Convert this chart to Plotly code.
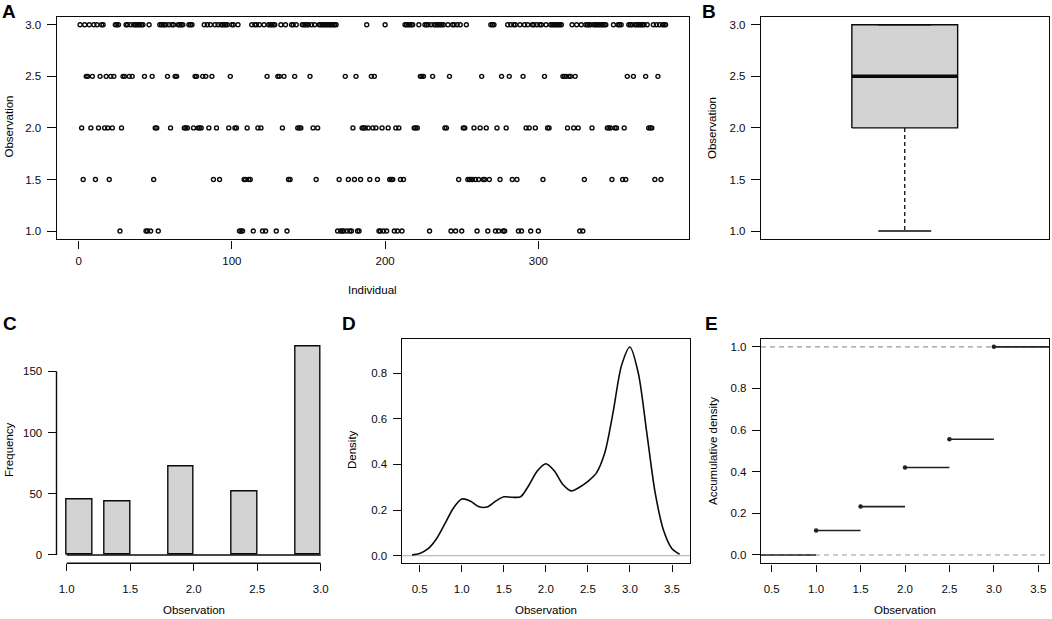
import numpy as np
import plotly.graph_objects as go

# observation levels and the individuals (1..383) that fall on each level
levels = [1.0, 1.5, 2.0, 2.5, 3.0]

idx_1_0 = [27, 44, 45, 47, 52, 105, 106, 107, 114, 120, 122, 129, 136, 169, 171, 172, 173, 175,
           177, 178, 182, 183, 196, 197, 199, 201, 206, 208, 211, 229, 243, 246, 250, 260, 267,
           272, 274, 277, 278, 287, 289, 295, 300, 327, 329]

idx_1_5 = [3, 11, 20, 49, 88, 92, 108, 109, 111, 112, 137, 138, 155, 170, 176, 180, 184, 190,
           195, 203, 204, 205, 210, 212, 248, 254, 255, 256, 257, 259, 261, 264, 265, 268, 275,
           283, 286, 303, 330, 348, 355, 357, 376, 380]

idx_2_0 = [2, 8, 13, 17, 19, 22, 28, 50, 51, 60, 69, 70, 71, 75, 78, 79, 80, 85, 90, 98, 102,
           103, 110, 117, 119, 133, 143, 144, 145, 153, 156, 179, 185, 186, 187, 189, 192, 194,
           198, 202, 207, 209, 219, 220, 221, 239, 240, 251, 252, 258, 262, 266, 273, 279, 292,
           294, 298, 306, 307, 319, 323, 326, 335, 345, 346, 347, 350, 351, 356, 372, 373, 374]

idx_2_5 = [5, 6, 9, 14, 18, 21, 23, 29, 30, 33, 35, 43, 48, 58, 63, 64, 76, 77, 81, 83, 87, 99,
           123, 130, 131, 134, 141, 151, 174, 181, 191, 193, 223, 224, 225, 231, 242, 263, 276,
           281, 290, 304, 316, 317, 318, 320, 321, 324, 358, 362, 370, 378]

idx_3_0 = [1, 4, 7, 10, 12, 15, 16, 24, 25, 26, 31, 32, 34, 36, 37, 38, 39, 40, 41, 42, 46, 53,
           54, 55, 56, 57, 59, 61, 62, 65, 66, 67, 68, 72, 73, 74, 82, 84, 86, 89, 91, 93, 94, 95,
           96, 97, 100, 101, 104, 113, 115, 116, 118, 121, 124, 125, 126, 127, 128, 132, 135, 139,
           140, 142, 146, 147, 148, 149, 150, 152, 154, 157, 158, 159, 160, 161, 162, 163, 164,
           165, 166, 167, 168, 188, 200, 213, 214, 215, 216, 217, 218, 222, 226, 227, 228, 230,
           232, 233, 234, 235, 236, 237, 238, 241, 244, 245, 247, 249, 253, 269, 270, 271, 280,
           282, 284, 285, 288, 291, 293, 296, 297, 299, 301, 302, 305, 308, 309, 310, 311, 312,
           313, 314, 315, 322, 325, 328, 331, 332, 333, 334, 336, 337, 338, 339, 340, 341, 342,
           343, 344, 349, 352, 353, 354, 359, 360, 361, 363, 364, 365, 366, 367, 368, 369, 371,
           375, 377, 379, 381, 382, 383]

# kernel density curve
density_x = [0.41, 0.5, 0.6, 0.7, 0.8, 0.9, 1.0, 1.1, 1.2, 1.3, 1.4, 1.5, 1.6, 1.7, 1.8, 1.9,
             2.0, 2.1, 2.2, 2.3, 2.4, 2.5, 2.6, 2.7, 2.8, 2.9, 3.0, 3.1, 3.2, 3.3, 3.4, 3.5, 3.59]
density_y = [0.003, 0.009, 0.03, 0.074, 0.14, 0.208, 0.248, 0.240, 0.215, 0.213, 0.238, 0.258,
             0.256, 0.258, 0.31, 0.372, 0.403, 0.372, 0.313, 0.284, 0.30, 0.326, 0.362, 0.45,
             0.63, 0.835, 0.916, 0.80, 0.54, 0.275, 0.11, 0.03, 0.006]

groups = [idx_1_0, idx_1_5, idx_2_0, idx_2_5, idx_3_0]
counts = [len(g) for g in groups]
n_total = sum(counts)
all_obs = np.concatenate([[lv] * len(g) for lv, g in zip(levels, groups)])

W, H = 1052, 619
FONT = "Liberation Sans, Arial, Helvetica, sans-serif"
INK = "#0a0a0a"
GREY_FILL = "#d3d3d3"
FS = 11.5


def px(x):
    return x / W


def py(y):
    return 1 - y / H


fig = go.Figure()

# ---- A: observation per individual
for lv, g in zip(levels, groups):
    fig.add_trace(go.Scatter(x=g, y=[lv] * len(g), mode="markers",
                             marker=dict(symbol="circle-open", size=4, color=INK,
                                         line=dict(width=1.4, color=INK)),
                             xaxis="x", yaxis="y", showlegend=False))

# ---- B: boxplot
q1, med, q3 = np.percentile(all_obs, [25, 50, 75])
iqr = q3 - q1
lo = all_obs[all_obs >= q1 - 1.5 * iqr].min()
hi = all_obs[all_obs <= q3 + 1.5 * iqr].max()
half_box, half_cap = 0.184, 0.092
bx0, bx1 = 1 - half_box, 1 + half_box
fig.add_trace(go.Scatter(x=[bx0, bx1, bx1, bx0, bx0], y=[q1, q1, q3, q3, q1], mode="lines",
                         fill="toself", fillcolor=GREY_FILL, line=dict(color=INK, width=1.4),
                         xaxis="x2", yaxis="y2", showlegend=False))
fig.add_trace(go.Scatter(x=[bx0, bx1], y=[med, med], mode="lines",
                         line=dict(color=INK, width=3.5), xaxis="x2", yaxis="y2", showlegend=False))
fig.add_trace(go.Scatter(x=[1, 1, None, 1, 1], y=[q1, lo, None, q3, hi], mode="lines",
                         line=dict(color=INK, width=1.3, dash="4px,3px"),
                         xaxis="x2", yaxis="y2", showlegend=False))
fig.add_trace(go.Scatter(x=[1 - half_cap, 1 + half_cap, None, 1 - half_cap, 1 + half_cap],
                         y=[lo, lo, None, hi, hi], mode="lines",
                         line=dict(color=INK, width=1.4), xaxis="x2", yaxis="y2", showlegend=False))

# ---- C: histogram (R style right-closed bins of width 0.2)
bin_w = 0.2
centers = [lv + bin_w / 2 if lv == min(levels) else lv - bin_w / 2 for lv in levels]
fig.add_trace(go.Bar(x=centers, y=counts, width=bin_w,
                     marker=dict(color=GREY_FILL, line=dict(color=INK, width=1.4)),
                     xaxis="x3", yaxis="y3", showlegend=False))

# ---- D: density
fig.add_trace(go.Scatter(x=density_x, y=density_y, mode="lines",
                         line=dict(color=INK, width=1.6, shape="spline", smoothing=0.8),
                         xaxis="x4", yaxis="y4", showlegend=False))

# ---- E: empirical cumulative distribution
e_range = [0.38, 3.62]
cum = list(np.cumsum(counts) / n_total)
seg_x, seg_y = [], []
for a, b, v in zip([e_range[0]] + levels, levels + [e_range[1]], [0.0] + cum):
    seg_x += [a, b, None]
    seg_y += [v, v, None]
fig.add_trace(go.Scatter(x=seg_x, y=seg_y, mode="lines", line=dict(color="#222", width=1.6),
                         xaxis="x5", yaxis="y5", showlegend=False))
fig.add_trace(go.Scatter(x=levels, y=cum, mode="markers", marker=dict(size=4.5, color="#222"),
                         xaxis="x5", yaxis="y5", showlegend=False))


def axis(domain, rng, tickvals, fmt, anchor, box=True, standoff=3, ticklen=7):
    return dict(domain=domain, range=rng, tickvals=tickvals,
                ticktext=[fmt.format(t) for t in tickvals], anchor=anchor,
                ticks="outside", ticklen=ticklen, tickwidth=1.2, tickcolor=INK,
                showline=box, mirror=box, linecolor=INK, linewidth=1.4,
                showgrid=False, zeroline=False, ticklabelstandoff=standoff,
                tickfont=dict(family=FONT, size=FS, color=INK))


half_ticks = [1.0, 1.5, 2.0, 2.5, 3.0]
wide_ticks = [0.5, 1.0, 1.5, 2.0, 2.5, 3.0, 3.5]
top_y = [py(239.3), py(16.5)]
bot_y = [py(563.3), py(338.5)]

fig.update_layout(
    width=W, height=H, margin=dict(l=0, r=0, t=0, b=0),
    paper_bgcolor="white", plot_bgcolor="white",
    font=dict(family=FONT, size=FS, color=INK),
    xaxis=axis([px(56.7), px(689)], [-14.28, 398.28], [0, 100, 200, 300], "{:d}", "y",
               standoff=3, ticklen=8),
    yaxis=axis(top_y, [0.92, 3.08], half_ticks, "{:.1f}", "x", ticklen=9),
    xaxis2=dict(domain=[px(761), px(1048.5)], range=[0.5, 1.5], anchor="y2",
                showticklabels=False, ticks="", showline=True, mirror=True,
                linecolor=INK, linewidth=1.4, showgrid=False, zeroline=False),
    yaxis2=axis(top_y, [0.92, 3.08], half_ticks, "{:.1f}", "x2", ticklen=9),
    xaxis3=axis([px(56.5), px(330.9)], [0.92, 3.08], half_ticks, "{:.1f}", "y3", box=False,
                standoff=8),
    yaxis3=axis(bot_y, [-6.8, 176.8], [0, 50, 100, 150], "{:d}", "x3", box=False, ticklen=8),
    xaxis4=axis([px(401.7), px(690)], [0.286, 3.714], wide_ticks, "{:.1f}", "y4", standoff=8),
    yaxis4=axis(bot_y, [-0.034, 0.953], [0.0, 0.2, 0.4, 0.6, 0.8], "{:.1f}", "x4", ticklen=8),
    xaxis5=axis([px(761), px(1049)], e_range, wide_ticks, "{:.1f}", "y5", standoff=8),
    yaxis5=axis(bot_y, [-0.04, 1.04], [0.0, 0.2, 0.4, 0.6, 0.8, 1.0], "{:.1f}", "x5", ticklen=8),
    bargap=0,
)

# R style axis lines for the histogram: they only span the tick range
c_xt = half_ticks
c_yt = [0, 50, 100, 150]
shapes = [
    dict(type="line", xref="x3", yref="y3 domain", x0=min(c_xt), x1=max(c_xt), y0=0, y1=0,
         line=dict(color=INK, width=1.4)),
    dict(type="line", xref="x3 domain", yref="y3", x0=0, x1=0, y0=min(c_yt), y1=max(c_yt),
         line=dict(color=INK, width=1.4)),
    dict(type="line", xref="x3", yref="y3", x0=min(levels), x1=max(levels), y0=0, y1=0,
         line=dict(color=INK, width=1.4)),
    dict(type="line", xref="x4 domain", yref="y4", x0=0, x1=1, y0=0, y1=0,
         line=dict(color="#bdbdbd", width=1.2), layer="below"),
    dict(type="line", xref="x5 domain", yref="y5", x0=0, x1=1, y0=0, y1=0,
         line=dict(color="#9a9a9a", width=1.1, dash="5px,4px"), layer="below"),
    dict(type="line", xref="x5 domain", yref="y5", x0=0, x1=1, y0=1, y1=1,
         line=dict(color="#9a9a9a", width=1.1, dash="5px,4px"), layer="below"),
]
fig.update_layout(shapes=shapes)

notes = [
    ("A", 9, 11, 0, True), ("B", 709, 11, 0, True), ("C", 10, 323, 0, True),
    ("D", 349, 323, 0, True), ("E", 711, 323, 0, True),
    ("Observation", 8.5, 127, -90, False), ("Individual", 372, 290, 0, False),
    ("Observation", 712, 128, -90, False),
    ("Frequency", 9, 450, -90, False), ("Observation", 193.5, 610, 0, False),
    ("Density", 352, 450, -90, False), ("Observation", 545.5, 610, 0, False),
    ("Accumulative density", 713, 451, -90, False), ("Observation", 905, 610, 0, False),
]
annotations = []
for text, x, y, angle, bold in notes:
    annotations.append(dict(
        text="<b>%s</b>" % text if bold else text, x=px(x), y=py(y), xref="paper", yref="paper",
        showarrow=False, textangle=angle, xanchor="center", yanchor="middle",
        font=dict(family=FONT, size=19 if bold else FS, color="black")))
fig.update_layout(annotations=annotations)

fig.write_html("out.html", config={"displayModeBar": False},
               post_script="document.body.style.margin='0';")
